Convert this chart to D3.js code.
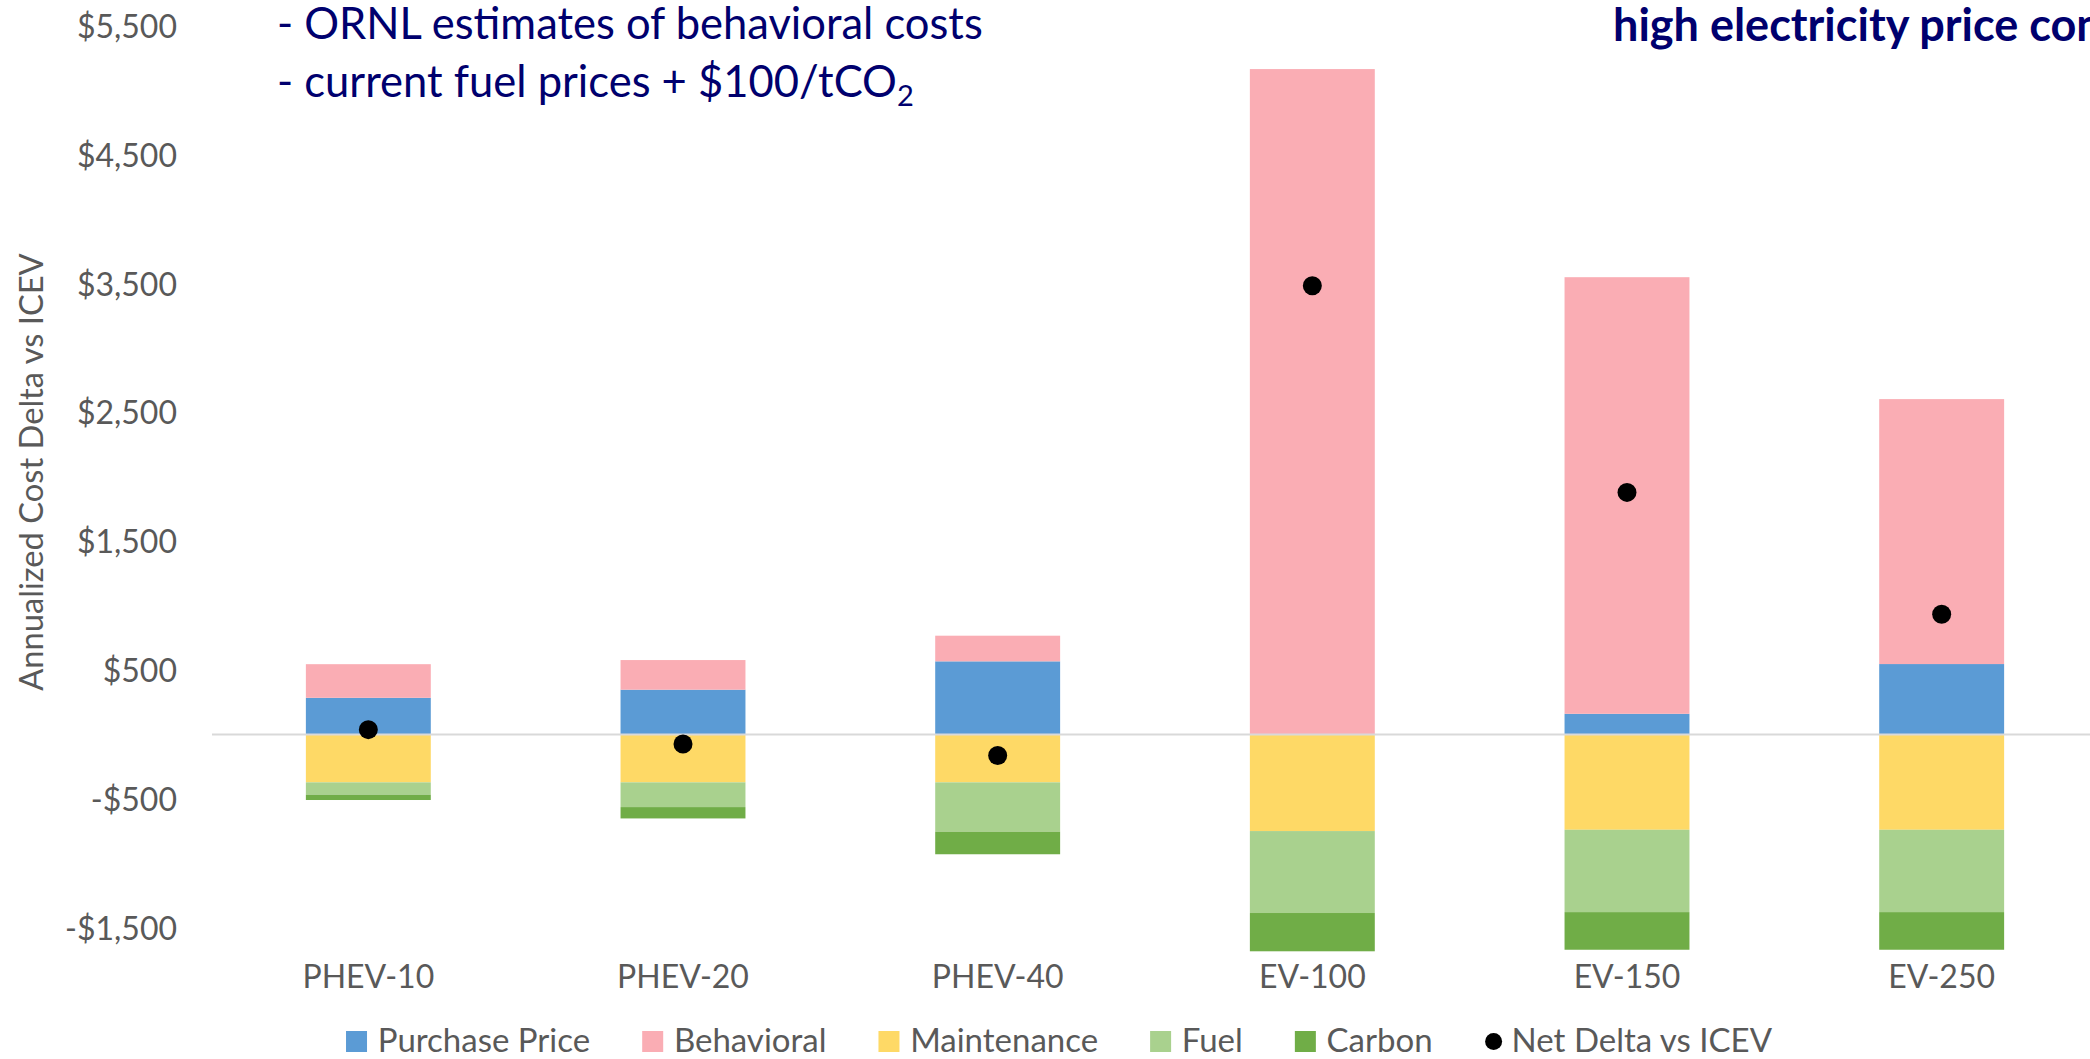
<!DOCTYPE html>
<html>
<head>
<meta charset="utf-8">
<script src="https://cdn.jsdelivr.net/npm/d3@7/dist/d3.min.js"></script>
<style>
  html, body { margin: 0; padding: 0; background: #ffffff; overflow: hidden; }
  svg { display: block; }
  text { font-family: Lato, "Open Sans", "DejaVu Sans", sans-serif; }
</style>
</head>
<body>
<svg id="chart" width="2090" height="1059"></svg>
<script>
// Vehicle types along the x axis
const categories = ["PHEV-10", "PHEV-20", "PHEV-40", "EV-100", "EV-150", "EV-250"];

// Annualized cost components vs ICEV ($/yr), one array per component
const purchasePrice = [285, 348, 568, 0, 161, 547];
const behavioral    = [261, 230, 199, 5164, 3388, 2056];
const maintenance   = [-371, -371, -371, -749, -739, -739];
const fuel          = [-96, -192, -383, -636, -639, -639];
const carbon        = [-41, -88, -175, -297, -292, -292];

// Net annualized delta vs ICEV
const netDelta      = [38, -73, -162, 3482, 1879, 933];

// Series names and fills, in stacking order
const seriesNames  = ["Purchase Price", "Behavioral", "Maintenance", "Fuel", "Carbon"];
const seriesColors = ["#5B9BD5", "#FAADB4", "#FED966", "#A9D18E", "#70AD47"];
const seriesValues = [purchasePrice, behavioral, maintenance, fuel, carbon];

// Value axis ticks
const yTicks = [-1500, -500, 500, 1500, 2500, 3500, 4500, 5500];

const svg = d3.select("#chart");

const table = categories.map((c, i) => {
  const row = { category: c, net: netDelta[i] };
  seriesNames.forEach((s, k) => { row[s] = seriesValues[k][i]; });
  return row;
});

const x = d3.scaleBand()
  .domain(categories)
  .range([211, 2099])
  .paddingInner(0.603)
  .paddingOuter(0.3015);

const y = d3.scaleLinear()
  .domain([-1800, 5700])
  .range([966.5, 0]);

const color = d3.scaleOrdinal().domain(seriesNames).range(seriesColors);

const stacked = d3.stack()
  .keys(seriesNames)
  .offset(d3.stackOffsetDiverging)(table);

// Stacked bar segments
svg.append("g")
  .selectAll("g")
  .data(stacked)
  .join("g")
    .attr("fill", d => color(d.key))
  .selectAll("rect")
  .data(d => d)
  .join("rect")
    .attr("x", d => x(d.data.category))
    .attr("width", x.bandwidth())
    .attr("y", d => y(Math.max(d[0], d[1])))
    .attr("height", d => Math.abs(y(d[0]) - y(d[1])));

// Horizontal category axis line at zero
svg.append("line")
  .attr("x1", 212).attr("x2", 2090)
  .attr("y1", y(0)).attr("y2", y(0))
  .attr("stroke", "#D9D9D9")
  .attr("stroke-width", 2);

// Net delta markers
svg.append("g")
  .selectAll("circle")
  .data(table)
  .join("circle")
    .attr("cx", d => x(d.category) + x.bandwidth() / 2)
    .attr("cy", d => y(d.net))
    .attr("r", 9.5)
    .attr("fill", "#000000");

// Value axis labels
const locale = d3.formatLocale({ decimal: ".", thousands: ",", grouping: [3], currency: ["$", ""], minus: "-" });
const fmt = locale.format("$,");
const yAxis = d3.axisLeft(y)
  .tickValues(yTicks)
  .tickFormat(fmt)
  .tickSize(0)
  .tickPadding(0);
const yg = svg.append("g")
  .attr("transform", "translate(177,0)")
  .call(yAxis);
yg.select(".domain").remove();
yg.selectAll("text")
  .attr("fill", "#595959")
  .style("font-size", "32px")
  .attr("dy", "0.36em");

// Category labels
const xAxis = d3.axisBottom(x).tickSize(0).tickPadding(0);
const xg = svg.append("g")
  .attr("transform", "translate(0,988)")
  .call(xAxis);
xg.select(".domain").remove();
xg.selectAll("text")
  .attr("fill", "#595959")
  .style("font-size", "32px")
  .attr("y", 0)
  .attr("dy", 0);

// Value axis title
svg.append("text")
  .attr("transform", "translate(43,472) rotate(-90)")
  .attr("text-anchor", "middle")
  .attr("fill", "#595959")
  .style("font-size", "32.7px")
  .text("Annualized Cost Delta vs ICEV");

// Scenario notes
const notes = svg.append("g").attr("fill", "#00006E").style("font-size", "43.5px");
notes.append("text").attr("x", 277).attr("y", 39).text("- ORNL estimates of behavioral costs");
const n2 = notes.append("text").attr("x", 277).attr("y", 97);
n2.append("tspan").text("- current fuel prices + $100/tCO");
n2.append("tspan").attr("dy", 9).style("font-size", "29px").text("2");

svg.append("text")
  .attr("x", 1613).attr("y", 41)
  .attr("fill", "#00006E")
  .style("font-size", "45px")
  .style("font-weight", "bold")
  .text("high electricity price con");

// Legend, laid out left to right and centred
const legendItems = seriesNames.map((s, k) => ({ name: s, color: seriesColors[k], type: "rect" }))
  .concat([{ name: "Net Delta vs ICEV", color: "#000000", type: "dot" }]);
const legend = svg.append("g");
let cursor = 0;
legendItems.forEach(item => {
  const g = legend.append("g").attr("transform", `translate(${cursor},0)`);
  if (item.type === "rect") {
    g.append("rect").attr("x", 0).attr("y", -21).attr("width", 21).attr("height", 21).attr("fill", item.color);
  } else {
    g.append("circle").attr("cx", 9).attr("cy", -10.5).attr("r", 8.5).attr("fill", item.color);
  }
  const offset = item.type === "rect" ? 31.7 : 27;
  const t = g.append("text")
    .attr("x", offset).attr("y", 0)
    .attr("fill", "#595959")
    .style("font-size", "33px")
    .text(item.name);
  cursor += offset + t.node().getComputedTextLength() + 52;
});
const legendWidth = cursor - 52;
legend.attr("transform", `translate(${1059 - legendWidth / 2},1052)`);
</script>
</body>
</html>
